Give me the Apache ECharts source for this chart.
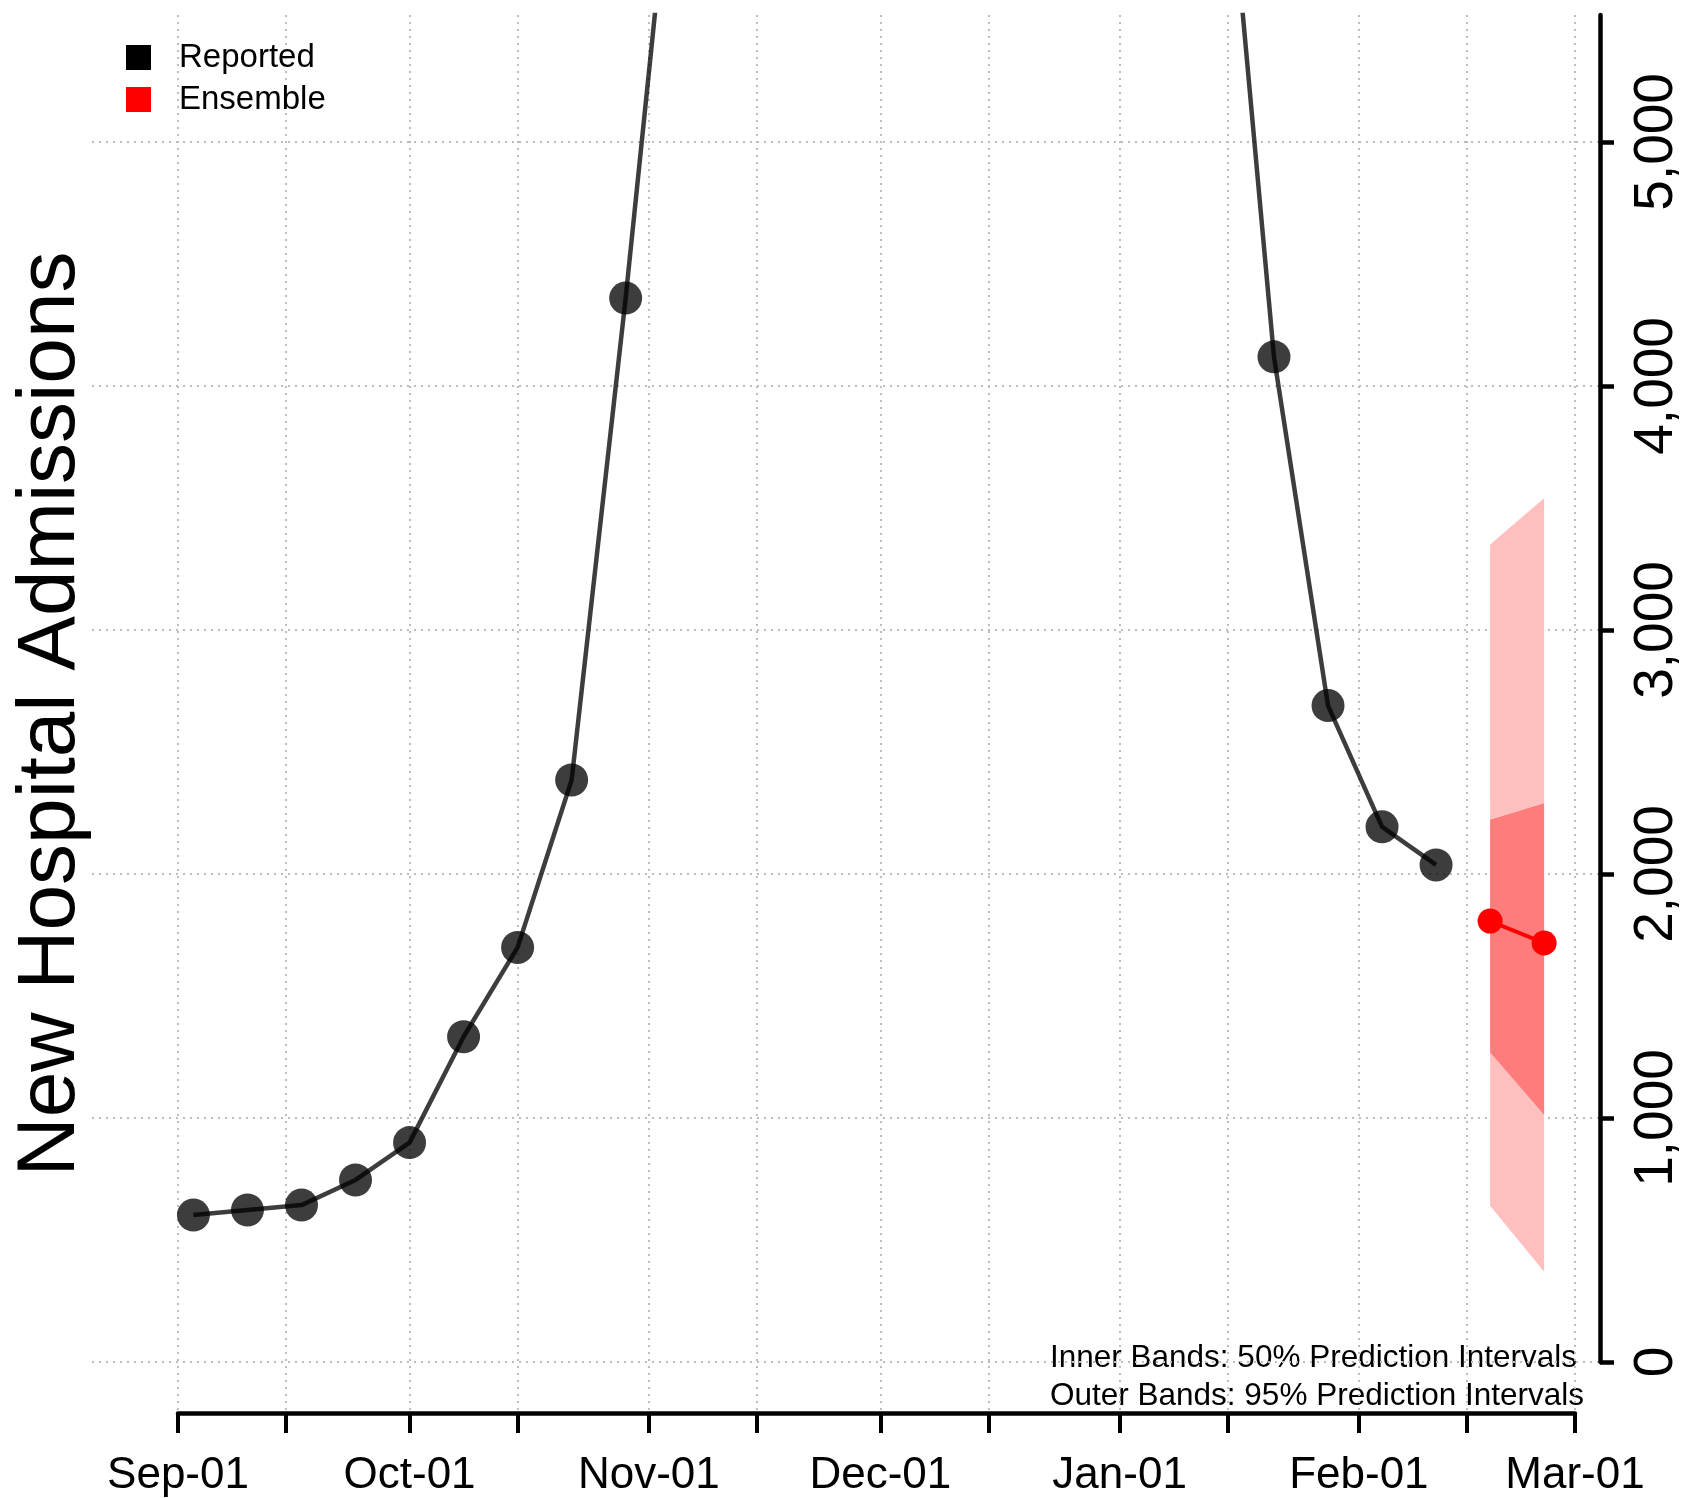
<!DOCTYPE html>
<html><head><meta charset="utf-8">
<script src="https://cdn.jsdelivr.net/npm/echarts@6/dist/echarts.min.js"></script>
<style>html,body{margin:0;padding:0;background:#fff}#c{width:1692px;height:1498px}</style>
</head><body><div id="c"></div>
<script>
// ---------- data ----------
const reportedDates = ['2020-09-03','2020-09-10','2020-09-17','2020-09-24','2020-10-01','2020-10-08','2020-10-15','2020-10-22','2020-10-29','2020-11-05',
                       '2021-01-14','2021-01-21','2021-01-28','2021-02-04','2021-02-11'];
const reportedValues = [602, 623, 643, 746, 899, 1333, 1699, 2385, 4360, 6510,
                        6550, 4119, 2690, 2193, 2037];
const forecastDates = ['2021-02-18','2021-02-25'];
const forecastValues = [1807, 1717];
const lower95 = [640, 370];
const lower50 = [1268, 1012];
const upper50 = [2223, 2291];
const upper95 = [3350, 3540];
const xTickDates = ['2020-09-01','2020-09-15','2020-10-01','2020-10-15','2020-11-01','2020-11-15','2020-12-01','2020-12-15','2021-01-01','2021-01-15','2021-02-01','2021-02-15','2021-03-01'];
const xLabelDates = ['2020-09-01','2020-10-01','2020-11-01','2020-12-01','2021-01-01','2021-02-01','2021-03-01'];
const yTicks = [0, 1000, 2000, 3000, 4000, 5000];
const monthNames = ['Jan','Feb','Mar','Apr','May','Jun','Jul','Aug','Sep','Oct','Nov','Dec'];

// ---------- helpers ----------
function ts(s){ const p = s.split('-').map(Number); return new Date(p[0], p[1]-1, p[2]).getTime(); }
const FONT = '"Liberation Sans", Arial, sans-serif';

// layout (pixels)
const axL = 178, axR = 1575, plotL = 92, plotR = 1600, plotT = 15, zeroY = 1362, axisY = 1413, W = 1692, H = 1498;
const xMin0 = ts(xTickDates[0]), xMax0 = ts(xTickDates[xTickDates.length-1]);
const pxPerMs = (axR - axL) / (xMax0 - xMin0);
const yMax = 5520;

const pair = (ds, vs) => ds.map((d,i)=>[ts(d), vs[i]]);
const gridDot = {color:'#bdbdbd', width:2, type:[2,5]};

const chart = echarts.init(document.getElementById('c'), null, {renderer:'canvas'});
chart.setOption({
  animation:false,
  backgroundColor:'#fff',
  textStyle:{fontFamily:FONT},
  grid:[
    {left:plotL, right:W-plotR, top:plotT, bottom:H-zeroY},
    {left:axL, right:W-axR, top:plotT, bottom:H-axisY}
  ],
  xAxis:[
    {type:'time', gridIndex:0, min: xMin0 - (axL-plotL)/pxPerMs, max: xMax0 + (plotR-axR)/pxPerMs, show:false},
    {type:'value', gridIndex:1, min:xMin0, max:xMax0,
     axisLine:{show:true, onZero:false, lineStyle:{color:'#000', width:4.5}},
     axisTick:{show:true, length:20, lineStyle:{color:'#000', width:4}, customValues:xTickDates.map(ts)},
     axisLabel:{show:true, customValues:xLabelDates.map(ts), fontSize:44, color:'#000', fontFamily:FONT, margin:41,
       formatter:v=>{const d=new Date(v); return monthNames[d.getMonth()]+'-'+String(d.getDate()).padStart(2,'0');}},
     splitLine:{show:true, lineStyle:gridDot}
    }
  ],
  yAxis:[
    {type:'value', gridIndex:0, position:'right', min:0, max:yMax,
     axisLine:{show:true, lineStyle:{color:'#000', width:4.5}},
     axisTick:{show:true, length:14, lineStyle:{color:'#000', width:4.5}, customValues:yTicks},
     axisLabel:{show:true, customValues:yTicks, rotate:90, fontSize:55, color:'#000', fontFamily:FONT, margin:29,
       formatter:v=>v.toLocaleString('en-US')},
     splitLine:{show:true, lineStyle:gridDot}
    },
    {type:'value', gridIndex:1, min:0, max:1, show:false}
  ],
  legend:{
    orient:'vertical', left:121, top:36, itemWidth:25, itemHeight:25, itemGap:9, icon:'rect',
    textStyle:{fontSize:33, color:'#000', fontFamily:FONT, padding:[0,0,0,23]},
    data:[{name:'Reported', itemStyle:{color:'#000', opacity:1}}, {name:'Ensemble', itemStyle:{color:'#ff0000', opacity:1}}],
    selectedMode:false
  },
  graphic:[
    {type:'text', x:51, y:714, rotation:Math.PI/2, style:{text:'New Hospital Admissions', fontSize:82, fontFamily:FONT, fill:'#000', align:'center', verticalAlign:'middle'}},
    {type:'text', x:1050, y:1358, style:{text:'Inner Bands: 50% Prediction Intervals', fontSize:31.5, fontFamily:FONT, fill:'#000', align:'left', verticalAlign:'middle'}},
    {type:'text', x:1050, y:1396, style:{text:'Outer Bands: 95% Prediction Intervals', fontSize:31.5, fontFamily:FONT, fill:'#000', align:'left', verticalAlign:'middle'}}
  ],
  series:[
    {name:'pi-base', type:'line', stack:'pi', xAxisIndex:0, yAxisIndex:0, symbol:'none', silent:true, lineStyle:{width:0, opacity:0},
     data: pair(forecastDates, lower95), z:1},
    {name:'pi-low95', type:'line', stack:'pi', xAxisIndex:0, yAxisIndex:0, symbol:'none', silent:true, lineStyle:{width:0, opacity:0},
     areaStyle:{color:'#ffbfbf', opacity:1}, data: forecastDates.map((d,i)=>[ts(d), lower50[i]-lower95[i]]), z:1},
    {name:'pi-50', type:'line', stack:'pi', xAxisIndex:0, yAxisIndex:0, symbol:'none', silent:true, lineStyle:{width:0, opacity:0},
     areaStyle:{color:'#ff7c7c', opacity:1}, data: forecastDates.map((d,i)=>[ts(d), upper50[i]-lower50[i]]), z:1},
    {name:'pi-up95', type:'line', stack:'pi', xAxisIndex:0, yAxisIndex:0, symbol:'none', silent:true, lineStyle:{width:0, opacity:0},
     areaStyle:{color:'#ffbfbf', opacity:1}, data: forecastDates.map((d,i)=>[ts(d), upper95[i]-upper50[i]]), z:1},
    {name:'Reported', type:'line', xAxisIndex:0, yAxisIndex:0, symbol:'circle', symbolSize:33, showAllSymbol:true,
     itemStyle:{color:'rgba(0,0,0,0.76)'}, lineStyle:{color:'rgba(0,0,0,0.76)', width:4.5},
     data: pair(reportedDates, reportedValues), z:5, silent:true, clip:true},
    {name:'Ensemble', type:'line', xAxisIndex:0, yAxisIndex:0, symbol:'circle', symbolSize:25,
     itemStyle:{color:'#ff0000'}, lineStyle:{color:'#ff0000', width:4},
     data: pair(forecastDates, forecastValues), z:6, silent:true}
  ]
});
</script></body></html>
